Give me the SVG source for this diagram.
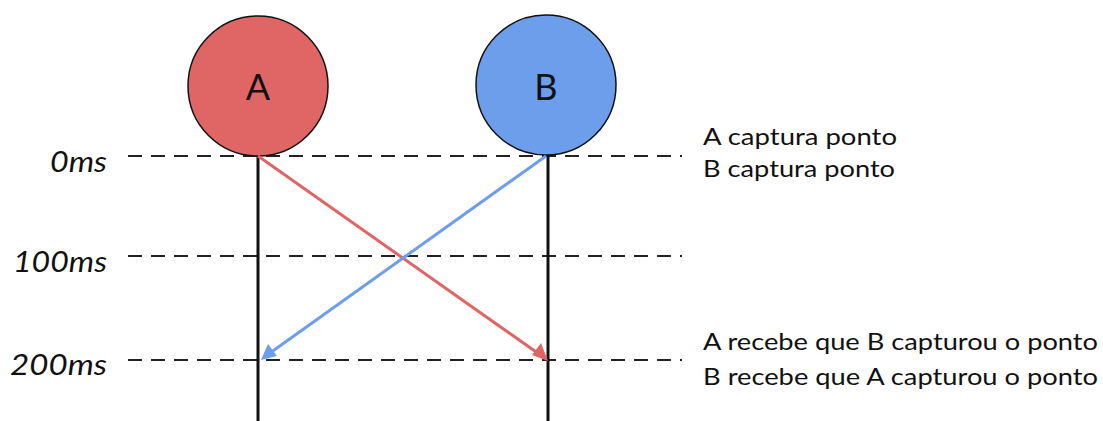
<svg xmlns="http://www.w3.org/2000/svg" width="1103" height="421" viewBox="0 0 1103 421">
<style>
.dash{stroke:#222;stroke-width:2;stroke-dasharray:14 9;fill:none}
.life{stroke:#111;stroke-width:3;fill:none}
.time{font-family:Lato,"Liberation Sans",sans-serif;font-style:italic;font-size:29px;fill:#111}
.note{font-family:Lato,"Liberation Sans",sans-serif;font-size:24px;fill:#111}
.node{stroke:#111;stroke-width:1.5}
.nlabel{font-family:Lato,"Liberation Sans",sans-serif;font-size:36px;fill:#111;text-anchor:middle}
</style>
<rect width="1103" height="421" fill="#fff"/>
<g id="grid">
<line class="dash" x1="128" y1="156" x2="682" y2="156"/>
<line class="dash" x1="128" y1="256" x2="682" y2="256"/>
<line class="dash" x1="128" y1="360" x2="682" y2="360"/>
</g>
<g id="lifelines">
<line class="life" x1="258" y1="156" x2="258" y2="421"/>
<line class="life" x1="548" y1="156" x2="548" y2="421"/>
</g>
<g id="node-A">
<circle class="node" cx="258" cy="86" r="70" fill="#e06666"/>
<text class="nlabel" x="258" y="100">A</text>
</g>
<g id="node-B">
<circle class="node" cx="546" cy="85" r="70" fill="#6d9eeb"/>
<text class="nlabel" x="546" y="100">B</text>
</g>
<g id="connectors">
<line x1="258" y1="156" x2="539" y2="354" stroke="#e06666" stroke-width="3"/>
<path d="M548,361 L532,355 L541,343 z" fill="#e06666"/>
<line x1="546" y1="156" x2="270" y2="353" stroke="#6d9eeb" stroke-width="3"/>
<path d="M261,360 L268,344 L277,356 z" fill="#6d9eeb"/>
</g>
<g id="labels">
<text class="time" x="50" y="172" textLength="57" lengthAdjust="spacingAndGlyphs">0ms</text>
<text class="time" x="13" y="272" textLength="94" lengthAdjust="spacingAndGlyphs">100ms</text>
<text class="time" x="10" y="375" textLength="97" lengthAdjust="spacingAndGlyphs">200ms</text>
<text class="note" x="703" y="145" textLength="194" lengthAdjust="spacingAndGlyphs">A captura ponto</text>
<text class="note" x="703" y="177" textLength="192" lengthAdjust="spacingAndGlyphs">B captura ponto</text>
<text class="note" x="703" y="350" textLength="395" lengthAdjust="spacingAndGlyphs">A recebe que B capturou o ponto</text>
<text class="note" x="703" y="385" textLength="395" lengthAdjust="spacingAndGlyphs">B recebe que A capturou o ponto</text>
</g>
</svg>
